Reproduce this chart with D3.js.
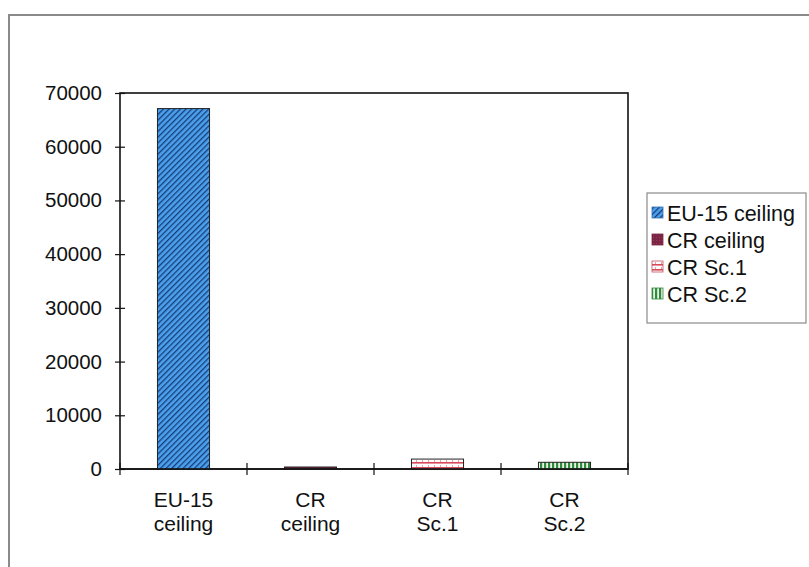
<!DOCTYPE html>
<html>
<head>
<meta charset="utf-8">
<script src="https://cdn.jsdelivr.net/npm/d3@7"></script>
<style>
  html, body { margin: 0; padding: 0; background: #fff; }
  svg { display: block; }
  text { font-family: "Liberation Sans", Arial, sans-serif; fill: #111; }
</style>
</head>
<body>
<svg id="chart" width="809" height="567"></svg>
<script>
// Emission ceilings compared with the CR scenarios
const categories = ["EU-15 ceiling", "CR ceiling", "CR Sc.1", "CR Sc.2"];
const categoryLines = [["EU-15", "ceiling"], ["CR", "ceiling"], ["CR", "Sc.1"], ["CR", "Sc.2"]];
const values = [67100, 370, 1850, 1250];
const yTicks = [0, 10000, 20000, 30000, 40000, 50000, 60000, 70000];
const legendLabels = ["EU-15 ceiling", "CR ceiling", "CR Sc.1", "CR Sc.2"];

const svg = d3.select("#chart");
const W = 809, H = 567;
const plot = { left: 120, right: 628, top: 93, bottom: 469 };

// fill patterns, one per series
const defs = svg.append("defs");

const pEU = defs.append("pattern").attr("id", "p-eu").attr("patternUnits", "userSpaceOnUse")
  .attr("width", 4).attr("height", 4).attr("patternTransform", "rotate(45)");
pEU.append("rect").attr("width", 4).attr("height", 4).attr("fill", "#4aa2ec");
pEU.append("rect").attr("x", 0).attr("width", 1.3).attr("height", 4).attr("fill", "#1a3a7a");

const pCR = defs.append("pattern").attr("id", "p-cr").attr("patternUnits", "userSpaceOnUse")
  .attr("width", 3).attr("height", 3);
pCR.append("rect").attr("width", 3).attr("height", 3).attr("fill", "#7b2444");
pCR.append("rect").attr("width", 1).attr("height", 1).attr("fill", "#9a3a5a");

const pS1 = defs.append("pattern").attr("id", "p-s1").attr("patternUnits", "userSpaceOnUse")
  .attr("width", 6).attr("height", 5);
pS1.append("rect").attr("width", 6).attr("height", 5).attr("fill", "#fff");
pS1.append("rect").attr("y", 2).attr("width", 6).attr("height", 1.6).attr("fill", "#d84a5a");
pS1.append("rect").attr("x", 2).attr("y", 0).attr("width", 1).attr("height", 2).attr("fill", "#e8a0a8");

const pS2 = defs.append("pattern").attr("id", "p-s2").attr("patternUnits", "userSpaceOnUse")
  .attr("width", 4).attr("height", 4);
pS2.append("rect").attr("width", 4).attr("height", 4).attr("fill", "#e8f4e8");
pS2.append("rect").attr("width", 2.2).attr("height", 4).attr("fill", "#2f8a3a");

const fills = ["url(#p-eu)", "url(#p-cr)", "url(#p-s1)", "url(#p-s2)"];

// outer frame (left and top edges)
svg.append("path")
  .attr("d", `M9,${H} V15 H${W}`)
  .attr("fill", "none").attr("stroke", "#8a8a8a").attr("stroke-width", 2);

// scales
const x = d3.scaleBand().domain(categories).range([plot.left, plot.right]).paddingInner(0.59).paddingOuter(0.295);
const y = d3.scaleLinear().domain([0, 70000]).range([plot.bottom, plot.top]);

// plot area frame
svg.append("rect")
  .attr("x", plot.left).attr("y", plot.top)
  .attr("width", plot.right - plot.left).attr("height", plot.bottom - plot.top)
  .attr("fill", "none").attr("stroke", "#111").attr("stroke-width", 1.6);

// bars
svg.append("g").selectAll("rect").data(values).join("rect")
  .attr("x", (d, i) => x(categories[i]))
  .attr("y", d => y(d))
  .attr("width", x.bandwidth())
  .attr("height", d => y(0) - y(d))
  .attr("fill", (d, i) => fills[i])
  .attr("stroke", "#222").attr("stroke-width", 1);

// y axis
const yAxis = d3.axisLeft(y).tickValues(yTicks).tickFormat(d3.format("d")).tickSize(0).tickPadding(18);
const gy = svg.append("g").attr("transform", `translate(${plot.left},0)`).call(yAxis);
gy.select(".domain").remove();
gy.selectAll("text").attr("font-size", 20.5).style("font-family", "'Liberation Sans', Arial, sans-serif");
gy.selectAll(".tick").append("line").attr("x1", -5).attr("x2", 5).attr("stroke", "#111").attr("stroke-width", 1.2);

// x axis with crossing ticks on category boundaries
svg.append("line").attr("x1", plot.left).attr("x2", plot.right)
  .attr("y1", plot.bottom).attr("y2", plot.bottom).attr("stroke", "#111").attr("stroke-width", 1.6);
const step = x.step();
const bounds = d3.range(categories.length + 1).map(i => plot.left + i * step);
svg.append("g").selectAll("line").data(bounds).join("line")
  .attr("x1", d => d).attr("x2", d => d)
  .attr("y1", plot.bottom - 6).attr("y2", plot.bottom + 6)
  .attr("stroke", "#111").attr("stroke-width", 1.2);

// category labels (two lines each)
const lab = svg.append("g").selectAll("text").data(categoryLines).join("text")
  .attr("text-anchor", "middle").attr("font-size", 21)
  .attr("x", (d, i) => x(categories[i]) + x.bandwidth() / 2)
  .attr("y", 507);
lab.selectAll("tspan").data(d => d).join("tspan")
  .attr("x", function () { return d3.select(this.parentNode).attr("x"); })
  .attr("dy", (d, i) => i === 0 ? 0 : 24)
  .text(d => d);

// legend
const lg = svg.append("g").attr("transform", "translate(647,193)");
lg.append("rect").attr("width", 159).attr("height", 130)
  .attr("fill", "#fff").attr("stroke", "#8a8a8a").attr("stroke-width", 1.2);
const items = lg.selectAll("g.item").data(legendLabels).join("g").attr("class", "item")
  .attr("transform", (d, i) => `translate(0,${20 + i * 27})`);
items.append("rect").attr("x", 5).attr("y", -6).attr("width", 11).attr("height", 11)
  .attr("fill", (d, i) => fills[i]).attr("stroke", (d, i) => ["#3a6fb0", "#7b2444", "#c05060", "#2f8a3a"][i]).attr("stroke-width", 0.8);
items.append("text").attr("x", 20).attr("y", 8).attr("font-size", 21.5).text(d => d);
</script>
</body>
</html>
